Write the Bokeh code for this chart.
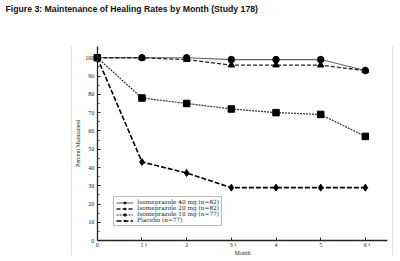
from bokeh.plotting import figure
from bokeh.models import Range1d, Legend, LegendItem, Span, FixedTicker, Title
from bokeh.core.properties import value
from bokeh.embed import file_html
from bokeh.resources import INLINE

# Percent of patients remaining healed, by month
months = [0, 1, 2, 3, 4, 5, 6]
iso_40 = [100, 100, 100, 99, 99, 99, 93]
iso_20 = [100, 100, 99, 96, 96, 96, 93]
iso_10 = [100, 78, 75, 72, 70, 69, 57]
placebo = [100, 43, 37, 29, 29, 29, 29]

series_labels = [
    "Isomeprazole 40 mg (n=82)",
    "Isomeprazole 20 mg (n=82)",
    "Isomeprazole 10 mg (n=77)",
    "Placebo (n=77)",
]
x_ticks = [0, 1, 2, 3, 4, 5, 6]
y_ticks = [0, 10, 20, 30, 40, 50, 60, 70, 80, 90, 100]
footnote_months = [1, 3, 6]

SERIF = "Liberation Serif"

p = figure(
    width=400, height=261,
    output_backend="svg", toolbar_location=None,
    x_range=Range1d(-0.6, 6.63), y_range=Range1d(-8.1, 106.7),
    min_border_left=70, min_border_right=7,
    min_border_top=43, min_border_bottom=6,
    title="Figure 3: Maintenance of Healing Rates by Month (Study 178)",
)
p.title.text_font = "Liberation Sans"
p.title.text_font_size = "8.7px"
p.title.text_font_style = "bold"
p.title.text_color = "#111111"
p.title.offset = -65
p.title.standoff = 6
p.title.vertical_align = "top"

# blank band between the heading and the plot area
p.add_layout(Title(text=" ", text_font_size="1px", standoff=24), "above")

p.outline_line_color = None
p.background_fill_color = "white"
p.border_fill_color = "white"
p.xgrid.visible = False
p.ygrid.visible = False

# faint side rules of the figure panel
for loc in (-0.58, 6.61):
    p.add_layout(Span(location=loc, dimension="height",
                      line_color="#e2e2e2", line_width=1.2))

# axes pinned at the origin
p.yaxis.fixed_location = 0
p.xaxis.fixed_location = 0
p.yaxis.bounds = (0, 106)
p.xaxis.bounds = (0, 6.5)

p.xaxis.ticker = FixedTicker(ticks=x_ticks)
p.yaxis.ticker = FixedTicker(ticks=y_ticks, minor_ticks=[t + 5 for t in y_ticks[:-1]])

for ax in (p.xaxis[0], p.yaxis[0]):
    ax.axis_line_color = "#222222"
    ax.axis_line_width = 1.3
    ax.major_tick_line_color = "#222222"
    ax.minor_tick_line_color = "#444444"
    ax.major_tick_in = 3
    ax.major_tick_out = 0
    ax.minor_tick_in = 0
    ax.minor_tick_out = 0
    ax.major_label_text_font = SERIF
    ax.major_label_text_font_size = "6px"
    ax.major_label_text_color = "#222222"
    ax.axis_label_text_font = SERIF
    ax.axis_label_text_font_size = "6px"
    ax.axis_label_text_font_style = "normal"
    ax.axis_label_text_color = "#222222"

p.yaxis.minor_tick_in = 2
p.yaxis.major_label_standoff = 3
p.yaxis.axis_label = "Percent Maintained"
p.yaxis.axis_label_standoff = 2
p.xaxis.major_label_standoff = 2
p.xaxis.axis_label = "Month"
p.xaxis.axis_label_standoff = 0

# footnote marks beside months 1, 3 and 6
p.text(x=footnote_months, y=[0] * len(footnote_months), text=["§"] * len(footnote_months),
       x_offset=3, y_offset=1, text_font=value(SERIF), text_font_size="4px",
       text_color="#222222", text_baseline="top", text_align="left")

l40 = p.line(months, iso_40, line_color="#666666", line_width=1.1)
m40 = p.scatter(months, iso_40, marker="circle", size=6.5, fill_color="black", line_color="black")

l20 = p.line(months, iso_20, line_color="#222222", line_width=1.3, line_dash="4 2")
m20 = p.scatter(months, iso_20, marker="triangle", size=6.5, fill_color="black", line_color="black")

l10 = p.line(months, iso_10, line_color="#333333", line_width=1.2, line_dash="2 1")
m10 = p.scatter(months, iso_10, marker="square", size=6.5, fill_color="black", line_color="black")

lpb = p.line(months, placebo, line_color="black", line_width=1.6, line_dash="5 2")
mpb = p.scatter(months, placebo, marker="diamond", size=7, fill_color="black", line_color="black")

legend = Legend(
    items=[
        LegendItem(label=series_labels[0], renderers=[l40, m40]),
        LegendItem(label=series_labels[1], renderers=[l20, m20]),
        LegendItem(label=series_labels[2], renderers=[l10, m10]),
        LegendItem(label=series_labels[3], renderers=[lpb, mpb]),
    ],
    location=(43, 29),
    label_text_font="DejaVu Serif",
    label_text_font_size="5.8px",
    label_text_color="#222222",
    label_height=6, glyph_height=5, glyph_width=17,
    label_standoff=4, spacing=0, padding=2, margin=0,
    border_line_color="#777777", border_line_width=1,
    background_fill_color="white",
)
p.add_layout(legend)

open("out.html", "w").write(file_html(p, INLINE))
